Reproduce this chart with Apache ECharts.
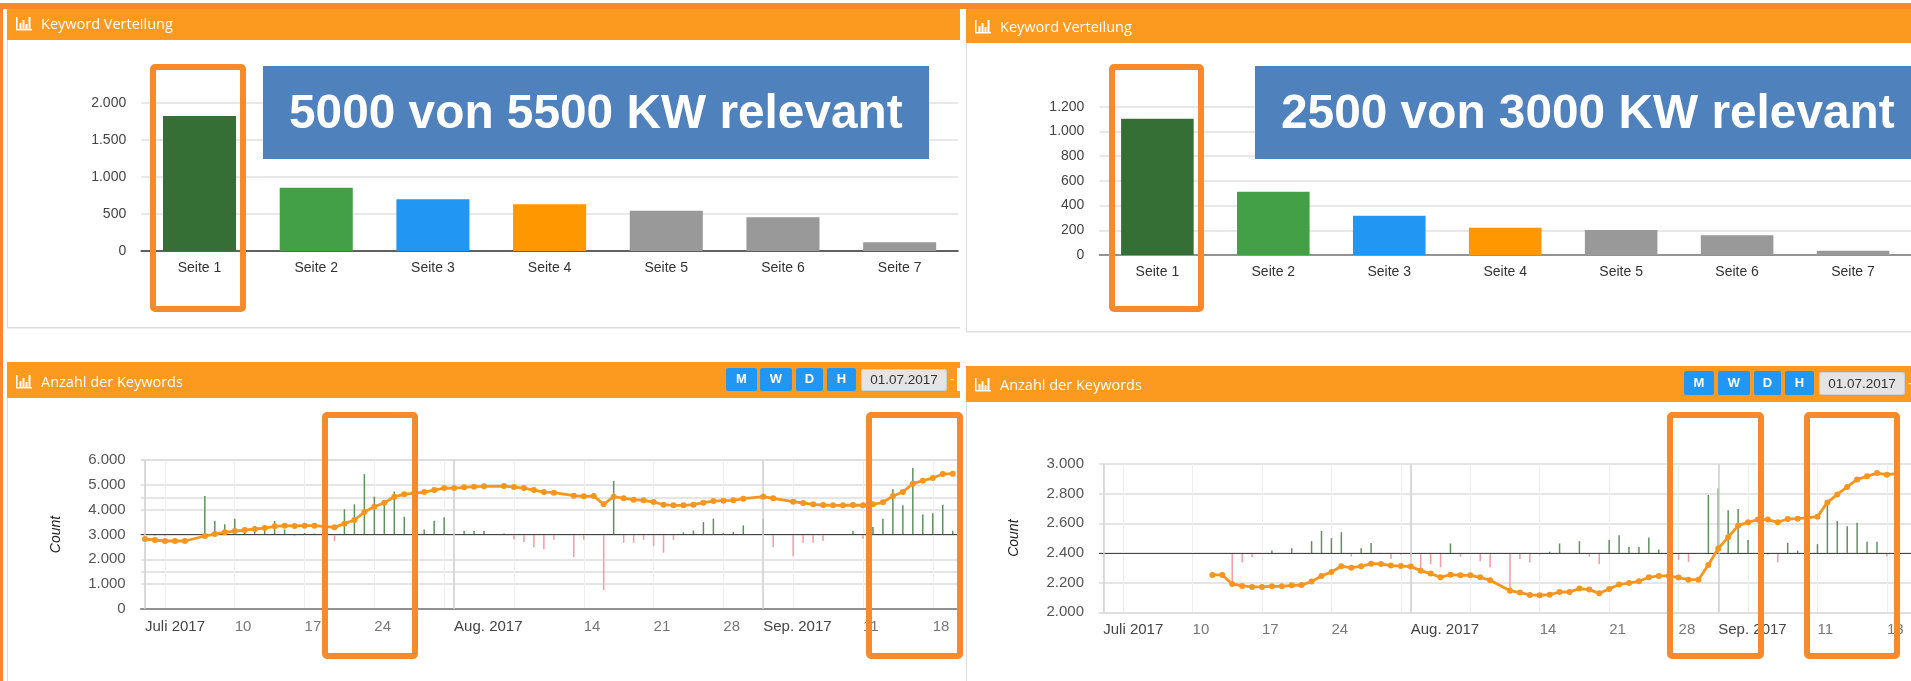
<!DOCTYPE html>
<html>
<head>
<meta charset="utf-8">
<title>Keyword Verteilung</title>
<style>
html,body{margin:0;padding:0;background:#fff;}
#main{width:1911px;height:681px;}
</style>
<script src="https://cdn.jsdelivr.net/npm/echarts@6/dist/echarts.min.js"></script>
</head>
<body>
<div id="main"></div>
<script>
//Keyword Verteilung
var pages = ['Seite 1','Seite 2','Seite 3','Seite 4','Seite 5','Seite 6','Seite 7'];
var pageColors = ['#356f35','#43a047','#2196f3','#ff9800','#999999','#999999','#999999'];
var pagesLeft = [1820,853,697,630,543,454,117];
var pagesRight = [1103,512,318,221,202,159,35];

//x axis, days counted from 1 July 2017
var gridDays = [0,2,9,16,23,30,31,37,44,51,58,62,65,72,79];
var monthDays = [0,31,62];
var labelDays = [0,9,16,23,31,44,51,58,62,72,79];
var labelTexts = ['Juli 2017','10','17','24','Aug. 2017','14','21','28','Sep. 2017','11','18'];

//Anzahl der Keywords, left, one value per day from day 0
var countLeft = [2818,2778,2738,2738,2738,null,2939,3020,3087,3140,
	3180,3221,3261,3328,3355,3342,3355,3355,null,3288,
	3436,3583,3905,4120,4281,4523,4616,4670,4710,4791,
	4871,4871,4898,4925,4938,null,4950,4911,4871,4791,
	4710,4683,null,4563,4536,4550,4214,4523,4455,4402,
	4375,4308,4200,4174,4174,4200,4281,4348,4362,4375,
	4442,null,4523,4455,null,4321,4268,4214,4187,4174,
	4174,4187,4174,4214,4295,4549,4710,5046,5167,5274,
	5435,5449];
var changeLeftDays = [1,2,6,7,8,9,10,11,12,13,14,15,16,17,19,20,21,22,23,24,25,26,27,28,29,30,
	32,33,34,36,37,38,39,40,41,43,44,46,47,48,49,50,51,52,53,54,55,56,57,58,59,60,
	62,63,65,66,67,68,71,72,73,74,75,76,77,78,79,80,81];
var changeLeft = [-11,-11,259,90,68,106,34,45,56,90,34,-11,11,7,-45,169,203,405,254,209,288,119,79,34,92,115,
	25,25,25,7,-34,-50,-86,-101,-36,-153,-36,-374,360,-56,-56,-36,-79,-122,-36,14,27,83,106,9,18,61,
	106,-86,-146,-56,-56,-43,25,-29,50,106,304,196,446,135,142,200,25];

//Anzahl der Keywords, right, one value per day from day 11
var countRightStart = 11;
var countRight = [2252,2252,2191,2178,2171,2171,2175,2175,2182,
	2184,2207,2245,2272,2310,2301,2310,2328,2326,2315,
	2312,2308,2281,2261,2236,2254,2249,2249,2236,2216,
	null,2146,2133,2117,2115,2119,2137,2137,2160,2153,
	2128,2157,2187,2198,2209,2236,2245,2245,2234,2220,
	2220,2319,2431,2506,2584,2607,2625,2625,2607,2629,
	2631,2638,2645,2741,2795,2845,2896,2917,2939,2928,
	2935];
var changeRightDays = [13,14,15,17,19,21,22,23,24,25,26,27,28,29,30,31,32,33,34,35,36,38,39,41,42,43,44,45,46,
	48,49,50,51,52,53,54,55,56,58,59,61,62,63,64,65,67,68,69,70,72,73,74,75,76,77,78,79];
var changeRight = [-52,-16,-7,4,8,20,37,25,35,-6,8,17,-2,-10,-3,-6,-28,-19,-24,16,-6,-14,-24,-62,-10,-16,-3,2,16,
	20,-6,-19,22,30,10,10,26,6,-12,-15,98,109,72,74,22,-3,-16,17,4,15,84,54,45,51,19,19,-6];

var ORANGE = '#fc9a1f';
var FRAME = '#f98a2c';
var BLUE = '#4f81bd';

function dotted(v){
	return String(v).replace(/\B(?=(\d{3})+$)/g,'.');
}

function pairs(days,values){
	return values.map(function(v,i){ return [days[i],v]; });
}

function countPairs(values,start){
	return values.map(function(v,i){ return [start+i,v]; });
}

// panel furniture ------------------------------------------------------------
var shapes = [];

function box(x,y,w,h,fill,z,r){
	shapes.push({type:'rect',z:z||1,silent:true,shape:{x:x,y:y,width:w,height:h,r:r||0},style:{fill:fill}});
}

function label(x,y,text,fill,font,z,align){
	shapes.push({type:'text',z:z||5,silent:true,style:{x:x,y:y,text:text,fill:fill,font:font,
		textAlign:align||'left',textVerticalAlign:'middle'}});
}

function header(x,y,w,h,title,textY){
	box(x,y,w,h,ORANGE);
	//bar chart icon
	var ix = x+9, iy = textY+5;
	box(ix,iy,16,1.5,'#fff',3);
	box(ix,iy-12,1.5,12,'#fff',3);
	box(ix+3.5,iy-6,2,6,'#fff',3);
	box(ix+6.5,iy-9,2,9,'#fff',3);
	box(ix+9.5,iy-5,2,5,'#fff',3);
	box(ix+12.5,iy-12,2,12,'#fff',3);
	label(x+34,textY+1,title,'#fff','14.5px "Open Sans"');
}

function buttons(xs,y,h,dateX){
	var names = ['M','W','D','H'];
	names.forEach(function(n,i){
		box(xs[i][0],y,xs[i][1]-xs[i][0],h,'#2196f3',3,2);
		label((xs[i][0]+xs[i][1])/2,y+h/2,n,'#fff','bold 13px "Liberation Sans"',5,'center');
	});
	box(dateX,y+1,86,h-1,'#cfcfcf',3,2);
	box(dateX+1,y+2,84,h-3,'#e4e4e4',3,2);
	label(dateX+43,y+h/2+1,'01.07.2017','#333','13.5px "Liberation Sans"',5,'center');
	label(dateX+89,y+h/2,'-','#fff','13px "Liberation Sans"',5);
}

function frame(x1,y1,x2,y2){
	shapes.push({type:'rect',z:50,silent:true,shape:{x:x1+3,y:y1+3,width:x2-x1-6,height:y2-y1-6,r:2},
		style:{fill:'none',stroke:FRAME,lineWidth:6}});
}

function banner(x,w,text,textX){
	box(x,66,w,93,BLUE,40);
	label(textX,115,text,'#fff','bold 47.8px "Liberation Sans"',41);
}

//outer stripes
box(0,3,1911,6,FRAME,2);
box(0,3,3,678,FRAME,2);

//panel borders
box(7,9,1,319,'#dddddd');
box(7,327,953,1.5,'#dddddd');
box(966,9,1,323,'#dddddd');
box(966,331,945,1.5,'#dddddd');
box(7,362,1,319,'#dddddd');
box(966,366,1,315,'#dddddd');

header(7,9,953,31,'Keyword Verteilung',24);
header(966,9,945,34,'Keyword Verteilung',27);
header(7,362,953,36,'Anzahl der Keywords',382);
header(966,366,945,36,'Anzahl der Keywords',385);

buttons([[726,757],[760,792],[796,823],[827,856]],368,23,861);
box(957,368,3,23,'#ffffff',3);
buttons([[1684,1714],[1718,1750],[1754,1781],[1785,1814]],371,24,1819);

banner(263,666,'5000 von 5500 KW relevant',289);
banner(1255,656,'2500 von 3000 KW relevant',1281);

frame(150,64,246,312);
frame(1109,64,1204,312);
frame(322,412,418,659);
frame(866,412,963,659);
frame(1667,412,1764,659);
frame(1804,412,1900,659);

// axes -----------------------------------------------------------------------
function pageAxis(gridIndex,lineColor){
	return {
		type:'category',gridIndex:gridIndex,data:pages,
		axisTick:{show:false},
		axisLine:{lineStyle:{color:lineColor,width:1.5}},
		axisLabel:{color:'#333',fontFamily:'Liberation Sans',fontSize:14,margin:10}
	};
}

function pageValueAxis(gridIndex,max,interval){
	return {
		type:'value',gridIndex:gridIndex,min:0,max:max,interval:interval,
		axisLine:{show:false},axisTick:{show:false},
		axisLabel:{color:'#444',fontFamily:'Liberation Sans',fontSize:14,margin:15,formatter:dotted},
		splitLine:{lineStyle:{color:'#e8e8e8',width:2}}
	};
}

function dayAxis(gridIndex,lineColor){
	return {
		type:'value',gridIndex:gridIndex,min:-0.43,max:81.43,
		axisLine:{onZero:false,lineStyle:{color:lineColor,width:1.5}},
		axisTick:{show:false,customValues:gridDays},
		axisLabel:{
			customValues:labelDays,align:'left',margin:10,
			fontFamily:'Liberation Sans',fontSize:15,
			color:function(v){ return monthDays.indexOf(Number(v))>=0 ? '#444' : '#777'; },
			formatter:function(v){ return labelTexts[labelDays.indexOf(v)]; }
		},
		splitLine:{show:true,lineStyle:{color:'#eeeeee',width:1}}
	};
}

function countAxis(gridIndex,min,max,interval){
	return {
		type:'value',gridIndex:gridIndex,min:min,max:max,interval:interval,
		name:'Count',nameLocation:'middle',nameRotate:90,nameGap:78,
		nameTextStyle:{color:'#222',fontFamily:'Liberation Sans',fontSize:14,fontStyle:'italic'},
		axisLine:{show:false},axisTick:{show:false},
		axisLabel:{color:'#555',fontFamily:'Liberation Sans',fontSize:15,margin:15,formatter:dotted},
		splitLine:{lineStyle:{color:'#dddddd',width:1.5}}
	};
}

function changeAxis(gridIndex,min,max,interval,lines){
	return {
		type:'value',gridIndex:gridIndex,min:min,max:max,interval:interval,position:'right',
		axisLine:{show:false},axisTick:{show:false},axisLabel:{show:false},
		splitLine:{show:lines,lineStyle:{color:'#dddddd',width:1.5}}
	};
}

// series ---------------------------------------------------------------------
function pageSeries(axisIndex,values){
	return {
		type:'bar',xAxisIndex:axisIndex,yAxisIndex:axisIndex,barWidth:'62.6%',
		data:values.map(function(v,i){ return {value:v,itemStyle:{color:pageColors[i]}}; })
	};
}

function changeSeries(xIndex,yIndex,data){
	var marks = [{yAxis:0,lineStyle:{color:'#444',width:1.2,type:'solid'}}];
	monthDays.forEach(function(d){
		marks.push({xAxis:d,lineStyle:{color:'#d0d0d0',width:1.5,type:'solid'}});
	});
	return {
		type:'bar',xAxisIndex:xIndex,yAxisIndex:yIndex,barWidth:1.5,z:2,
		itemStyle:{color:function(p){ return p.value[1]>=0 ? '#5f9160' : '#f79aa2'; }},
		markLine:{silent:true,symbol:'none',label:{show:false},data:marks},
		data:data
	};
}

function countSeries(xIndex,yIndex,data){
	return {
		type:'line',xAxisIndex:xIndex,yAxisIndex:yIndex,z:5,connectNulls:true,
		symbol:'circle',symbolSize:6,showSymbol:true,
		lineStyle:{color:'#f7961f',width:2.8},itemStyle:{color:'#f7961f'},
		data:data
	};
}

var myChart = echarts.init(document.getElementById('main'));
var option = {
	animation:false,
	grid:[
		{left:141.2,top:102.7,width:816.8,height:148.3},
		{left:1099.4,top:106.7,width:815.7,height:148.3},
		{left:140.7,top:460,width:816.3,height:149},
		{left:1099,top:464,width:816,height:148.3}
	],
	xAxis:[
		pageAxis(0,'#333333'),
		pageAxis(1,'#777777'),
		dayAxis(2,'#777777'),
		dayAxis(3,'#dddddd')
	],
	yAxis:[
		pageValueAxis(0,2000,500),
		pageValueAxis(1,1200,200),
		countAxis(2,0,6000,1000),
		changeAxis(2,-500,500,250,true),
		countAxis(3,2000,3000,200),
		changeAxis(3,-100,150,50,false)
	],
	series:[
		pageSeries(0,pagesLeft),
		pageSeries(1,pagesRight),
		changeSeries(2,3,pairs(changeLeftDays,changeLeft)),
		countSeries(2,2,countPairs(countLeft,0)),
		changeSeries(3,5,pairs(changeRightDays,changeRight)),
		countSeries(3,4,countPairs(countRight,countRightStart))
	],
	graphic:shapes
};
myChart.setOption(option);
</script>
</body>
</html>
